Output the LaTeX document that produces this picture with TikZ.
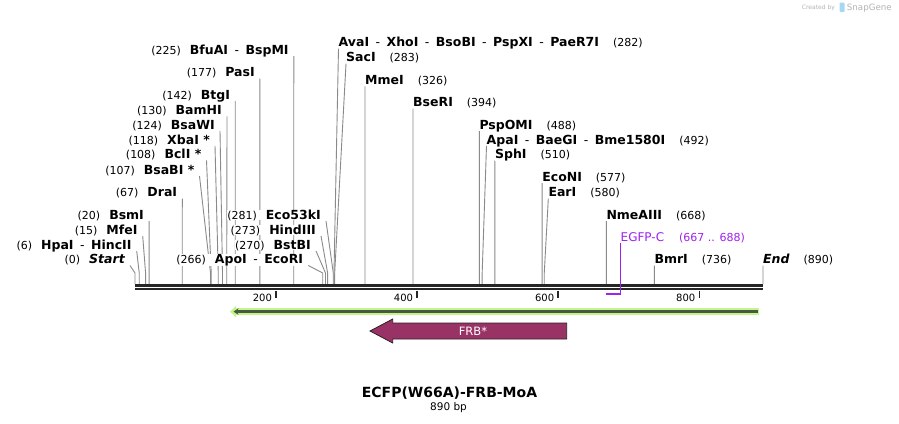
\documentclass[tikz,border=0pt]{standalone}
\usepackage{fontspec}
\setmainfont{DejaVu Sans}
\usetikzlibrary{arrows.meta,backgrounds}

\definecolor{cutgray}{HTML}{8A8A8A}
\definecolor{seqdark}{HTML}{262626}
\definecolor{frbred}{HTML}{993366}
\definecolor{frbedge}{HTML}{2E1F27}
\definecolor{egfpviolet}{HTML}{A020F0}
\definecolor{orflight}{HTML}{C4F58C}
\definecolor{orfdark}{HTML}{4A5A42}
\definecolor{markgray}{HTML}{B4B4B4}
\definecolor{markblue}{HTML}{A6D8F2}

% bp -> x in the picture
\newcommand\bpx[1]{135+#1*0.70562}
\newcommand\bpnum[1]{{\mdseries\fontsize{11}{13}\selectfont(#1)}}
\newcommand\enzsep{\hspace{6.5pt}{\mdseries-}\hspace{6.5pt}}

\tikzset{
  enz/.style={inner sep=0pt, fill=white, font=\fontsize{12.5}{14}\selectfont\bfseries},
  cut/.style={draw=cutgray, line width=0.9pt},
  seqline/.style={draw=seqdark, line width=2.4pt},
  ticklbl/.style={inner sep=0pt, anchor=base east, font=\fontsize{10}{12}\selectfont}
}

\begin{document}
\begin{tikzpicture}[x=1pt,y=-1pt]
\useasboundingbox (0,0) rectangle (899,423);
\begin{pgfonlayer}{background}
\fill[white] (0,0) rectangle (899,423);
\end{pgfonlayer}

% watermark
\node[inner sep=0pt, anchor=base west, text=markgray, font=\fontsize{6}{7}\selectfont] (made) at (801.7,9.5) {Created by};
\fill[markblue, rounded corners=1pt] (839.5,2.5) rectangle (844.5,12);
\node[inner sep=0pt, anchor=base west, text=markgray, font=\fontsize{8.7}{10}\selectfont] (snap) at (846.7,10.5) {SnapGene};

% sequence
\coordinate (barL) at (135,285.5);
\coordinate (barR) at (763.3,285.5);
\draw[seqline] (barL) -- (barR);
\draw[seqline] ([yshift=-3.5pt]barL) -- ([yshift=-3.5pt]barR);

% ticks
\foreach \t in {200,400,600,800}{
  \draw[seqdark, line width=1.8pt] ({\bpx{\t}},290.5) -- ({\bpx{\t}},297.5);
  \node[ticklbl] (tick\t) at ({\bpx{\t}-4},301) {\t};
}

% cut sites
\foreach \p in {0,6,15,20,67,107,108,118,124,130,142,177,225,266,270,273,281,282,283,326,394,488,492,510,577,580,668,736,890}
  \coordinate (s\p) at ({\bpx{\p}},284);

% left column
\node[enz, anchor=base east] (bfuai) at (288.8,54) {\bpnum{225}\hspace{9pt}BfuAI\enzsep BspMI};
\node[enz, anchor=base east] (pasi) at (254.9,76.7) {\bpnum{177}\hspace{9pt}PasI};
\node[enz, anchor=base east] (btgi) at (230.2,99) {\bpnum{142}\hspace{9pt}BtgI};
\node[enz, anchor=base east] (bamhi) at (222,114.3) {\bpnum{130}\hspace{9pt}BamHI};
\node[enz, anchor=base east] (bsawi) at (215,129) {\bpnum{124}\hspace{9pt}BsaWI};
\node[enz, anchor=base east] (xbai) at (210,144) {\bpnum{118}\hspace{9pt}XbaI *};
\node[enz, anchor=base east] (bcli) at (201.5,158.3) {\bpnum{108}\hspace{9pt}BclI *};
\node[enz, anchor=base east] (bsabi) at (194.5,174) {\bpnum{107}\hspace{9pt}BsaBI *};
\node[enz, anchor=base east] (drai) at (177.3,196.7) {\bpnum{67}\hspace{9pt}DraI};
\node[enz, anchor=base east] (bsmi) at (144.1,219) {\bpnum{20}\hspace{9pt}BsmI};
\node[enz, anchor=base east] (mfei) at (137.7,234) {\bpnum{15}\hspace{9pt}MfeI};
\node[enz, anchor=base east] (hpai) at (131.7,249) {\bpnum{6}\hspace{9pt}HpaI\enzsep HincII};
\node[enz, anchor=base east] (start) at (125,263.5) {\bpnum{0}\hspace{9pt}{\itshape Start}};

% middle
\node[enz, anchor=base east] (apoi) at (303.3,263.5) {\bpnum{266}\hspace{9pt}ApoI\enzsep EcoRI};
\node[enz, anchor=base east] (bstbi) at (311,249) {\bpnum{270}\hspace{9pt}BstBI};
\node[enz, anchor=base east] (hindiii) at (316,234) {\bpnum{273}\hspace{9pt}HindIII};
\node[enz, anchor=base east] (eco53ki) at (321,219) {\bpnum{281}\hspace{9pt}Eco53kI};

% right column
\node[enz, anchor=base west] (avai) at (338.5,46.7) {AvaI\enzsep XhoI\enzsep BsoBI\enzsep PspXI\enzsep PaeR7I\hspace{14pt}\bpnum{282}};
\node[enz, anchor=base west] (saci) at (346,61.7) {SacI\hspace{14pt}\bpnum{283}};
\node[enz, anchor=base west] (mmei) at (365,84.3) {MmeI\hspace{14pt}\bpnum{326}};
\node[enz, anchor=base west] (bseri) at (413,106.7) {BseRI\hspace{14pt}\bpnum{394}};
\node[enz, anchor=base west] (pspomi) at (479.3,129) {PspOMI\hspace{14pt}\bpnum{488}};
\node[enz, anchor=base west] (apai) at (486.5,144) {ApaI\enzsep BaeGI\enzsep Bme1580I\hspace{14pt}\bpnum{492}};
\node[enz, anchor=base west] (sphi) at (494.9,158.5) {SphI\hspace{14pt}\bpnum{510}};
\node[enz, anchor=base west] (econi) at (542.1,181) {EcoNI\hspace{14pt}\bpnum{577}};
\node[enz, anchor=base west] (eari) at (548.3,196.7) {EarI\hspace{14pt}\bpnum{580}};
\node[enz, anchor=base west] (nmeaiii) at (606.3,219) {NmeAIII\hspace{14pt}\bpnum{668}};
\node[enz, anchor=base west] (bmri) at (654.3,263.5) {BmrI\hspace{14pt}\bpnum{736}};
\node[enz, anchor=base west] (endmark) at (763,263.5) {{\itshape End}\hspace{14pt}\bpnum{890}};

% site lines
\begin{pgfonlayer}{background}
\draw[cut] (s225) -- ++(0,-11) -- ([shift={(5,2)}]bfuai.base east);
\draw[cut] (s177) -- ++(0,-11) -- ([shift={(5,2)}]pasi.base east);
\draw[cut] (s142) -- ++(0,-11) -- ([shift={(5,2)}]btgi.base east);
\draw[cut] (s130) -- ++(0,-11) -- ([shift={(5,2)}]bamhi.base east);
\draw[cut] (s124) -- ++(0,-11) -- ([shift={(5,2)}]bsawi.base east);
\draw[cut] (s118) -- ++(0,-11) -- ([shift={(5,2)}]xbai.base east);
\draw[cut] (s108) -- ++(0,-11) -- ([shift={(5,2)}]bcli.base east);
\draw[cut] (s107) -- ++(0,-11) -- ([shift={(5,2)}]bsabi.base east);
\draw[cut] (s67) -- ++(0,-11) -- ([shift={(5,2)}]drai.base east);
\draw[cut] (s20) -- ++(0,-11) -- ([shift={(5,2)}]bsmi.base east);
\draw[cut] (s15) -- ++(0,-11) -- ([shift={(5,2)}]mfei.base east);
\draw[cut] (s6) -- ++(0,-11) -- ([shift={(5,2)}]hpai.base east);
\draw[cut] (s0) -- ++(0,-11) -- ([shift={(5,2)}]start.base east);
\draw[cut] (s266) -- ++(0,-11) -- ([shift={(5,2)}]apoi.base east);
\draw[cut] (s270) -- ++(0,-11) -- ([shift={(5,2)}]bstbi.base east);
\draw[cut] (s273) -- ++(0,-11) -- ([shift={(5,2)}]hindiii.base east);
\draw[cut] (s281) -- ++(0,-11) -- ([shift={(5,2)}]eco53ki.base east);
\draw[cut] (s282) -- ++(0,-11) -- ([shift={(0,2)}]avai.base west);
\draw[cut] (s283) -- ++(0,-11) -- ([shift={(0,2)}]saci.base west);
\draw[cut] (s326) -- ++(0,-11) -- ([shift={(0,2)}]mmei.base west);
\draw[cut] (s394) -- ++(0,-11) -- ([shift={(0,2)}]bseri.base west);
\draw[cut] (s488) -- ++(0,-11) -- ([shift={(0,2)}]pspomi.base west);
\draw[cut] (s492) -- ++(0,-11) -- ([shift={(0,2)}]apai.base west);
\draw[cut] (s510) -- ++(0,-11) -- ([shift={(0,2)}]sphi.base west);
\draw[cut] (s577) -- ++(0,-11) -- ([shift={(0,2)}]econi.base west);
\draw[cut] (s580) -- ++(0,-11) -- ([shift={(0,2)}]eari.base west);
\draw[cut] (s668) -- ++(0,-11) -- ([shift={(0,2)}]nmeaiii.base west);
\draw[cut] (s736) -- ++(0,-11) -- ([shift={(0,2)}]bmri.base west);
\draw[cut] (s890) -- ++(0,-11) -- ([shift={(0,2)}]endmark.base west);
\end{pgfonlayer}

% EGFP-C
\coordinate (f667) at ({\bpx{667}},293.5);
\coordinate (f688) at ({\bpx{688}},293.5);
\draw[egfpviolet, line width=2pt] (f667) -- ([xshift=0.6pt]f688);
\node[inner sep=0pt, fill=white, anchor=base west, text=egfpviolet, font=\fontsize{12}{14}\selectfont] (egfpc) at ({\bpx{688}},241) {EGFP-C\hspace{15pt}{\fontsize{11}{13}\selectfont(667 .. 688)}};
\draw[egfpviolet, line width=1.2pt] ([yshift=-1pt]f688) -- ([shift={(0,2)}]egfpc.base west);

% ORF
\coordinate (orfR) at (759.3,311.6);
\coordinate (orfL) at (230,311.6);
\draw[orflight, line width=6.6pt, -{Triangle[length=6pt,width=11pt]}] (orfR) -- (orfL);
\draw[orfdark, line width=2.6pt, -{Stealth[length=5pt,width=6.5pt]}] ([xshift=-1.6pt]orfR) -- ([xshift=3.5pt]orfL);

% FRB*
\coordinate (frbR) at (566.7,331);
\coordinate (frbL) at (370,331);
\filldraw[fill=frbred, draw=frbedge, line width=0.8pt] (frbR) ++(0,-8) -- (392.7,323) -- (392.7,319) -- (frbL) -- (392.7,343) -- (392.7,339) -- ([yshift=-8pt]frbR) -- cycle;
\node[text=white, font=\fontsize{11.5}{13}\selectfont] (frb) at (473,331) {FRB*};

% title
\node[inner sep=0pt, anchor=base, font=\fontsize{14}{16}\selectfont\bfseries] (title) at (449.5,397) {ECFP(W66A)-FRB-MoA};
\node[inner sep=0pt, anchor=base, font=\fontsize{10.5}{12}\selectfont] (size) at (448.5,410.7) {890 bp};
\end{tikzpicture}
\end{document}
